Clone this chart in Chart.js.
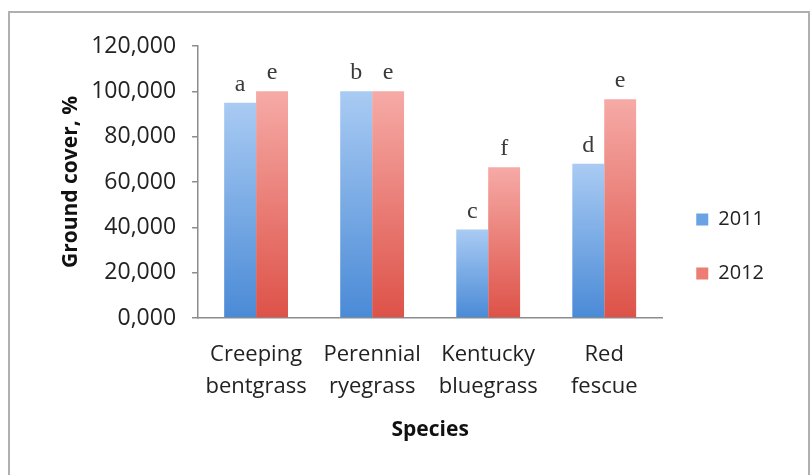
<!DOCTYPE html>
<html>
<head>
<meta charset="utf-8">
<script src="https://cdn.jsdelivr.net/npm/chart.js@4.4.1/dist/chart.umd.min.js"></script>
<style>
  html, body { margin: 0; padding: 0; background: #fff; }
  #frame { position: absolute; left: 8px; top: 11px; width: 802px; height: 470px; border: 2px solid #b0b0b0; box-sizing: border-box; }
  #wrap { position: absolute; left: 0; top: 0; width: 812px; height: 475px; }
</style>
</head>
<body>
<div id="frame"></div>
<div id="wrap"><canvas id="chart" width="812" height="475"></canvas></div>
<script>
const species = [['Creeping', 'bentgrass'], ['Perennial', 'ryegrass'], ['Kentucky', 'bluegrass'], ['Red', 'fescue']];
const cover2011 = [95, 100, 39, 68];
const cover2012 = [100, 100, 66.5, 96.5];
const letters2011 = ['a', 'b', 'c', 'd'];
const letters2012 = ['e', 'e', 'f', 'e'];
const yTicks = [0, 20, 40, 60, 80, 100, 120];

// vertical gradient per bar, light at the top
function barGradient(light, dark) {
    return (ctx) => {
        const chart = ctx.chart;
        const area = chart.chartArea;
        if (!area || ctx.raw == null) return dark;
        const top = chart.scales.y.getPixelForValue(ctx.raw);
        const g = chart.ctx.createLinearGradient(0, area.bottom, 0, top);
        g.addColorStop(0, dark);
        g.addColorStop(1, light);
        return g;
    };
}

// letters over the bars
const letterPlugin = {
    id: 'letters',
    afterDatasetsDraw(chart) {
        const ctx = chart.ctx;
        const sets = [letters2011, letters2012];
        ctx.save();
        ctx.font = '24px "Liberation Serif", serif';
        ctx.fillStyle = '#3a3a3a';
        ctx.textAlign = 'center';
        ctx.textBaseline = 'alphabetic';
        chart.data.datasets.forEach((ds, i) => {
            chart.getDatasetMeta(i).data.forEach((bar, j) => {
                ctx.fillText(sets[i][j], bar.x, bar.y - 12);
            });
        });
        ctx.restore();
    }
};

new Chart(document.getElementById('chart'), {
    type: 'bar',
    data: {
        labels: species,
        datasets: [{
            label: '2011',
            data: cover2011,
            backgroundColor: barGradient('#a9cbf3', '#4a8ad6')
        }, {
            label: '2012',
            data: cover2012,
            backgroundColor: barGradient('#f6aaa6', '#dd5248')
        }]
    },
    options: {
        responsive: false,
        animation: false,
        layout: { padding: { left: 50, right: 38, top: 46, bottom: 28 } },
        datasets: { bar: { categoryPercentage: 0.55, barPercentage: 1.0 } },
        plugins: {
            legend: {
                position: 'right',
                labels: {
                    boxWidth: 12,
                    boxHeight: 12,
                    padding: 34,
                    color: '#222',
                    font: { family: '"Open Sans"', size: 20 },
                    generateLabels(chart) {
                        const cols = ['#6aa2e4', '#ec7c74'];
                        return chart.data.datasets.map((ds, i) => ({
                            text: ds.label,
                            fillStyle: cols[i],
                            strokeStyle: cols[i],
                            lineWidth: 0,
                            datasetIndex: i,
                            fontColor: '#222'
                        }));
                    }
                }
            },
            tooltip: { enabled: false }
        },
        scales: {
            x: {
                grid: { display: false },
                border: { display: true, color: '#8c8c8c', width: 1.5 },
                ticks: {
                    color: '#222',
                    padding: 13,
                    font: { family: '"Open Sans"', size: 22, lineHeight: 1.45 }
                },
                title: {
                    display: true,
                    text: 'Species',
                    color: '#111',
                    padding: { top: 2 },
                    font: { family: '"Open Sans"', size: 21, weight: 'bold' }
                }
            },
            y: {
                min: 0,
                max: 120,
                afterBuildTicks(axis) { axis.ticks = yTicks.map(v => ({ value: v })); },
                grid: { drawOnChartArea: false, drawTicks: true, tickLength: 6, color: '#8c8c8c', lineWidth: 1.5 },
                border: { display: true, color: '#8c8c8c', width: 1.5 },
                ticks: {
                    color: '#222',
                    padding: 16,
                    font: { family: '"Open Sans"', size: 23 },
                    callback: (v) => v + ',000'
                },
                title: {
                    display: true,
                    text: 'Ground cover, %',
                    color: '#111',
                    padding: { top: 8, bottom: -8 },
                    font: { family: '"Open Sans"', size: 21, weight: 'bold' }
                }
            }
        }
    },
    plugins: [letterPlugin]
});
</script>
</body>
</html>
